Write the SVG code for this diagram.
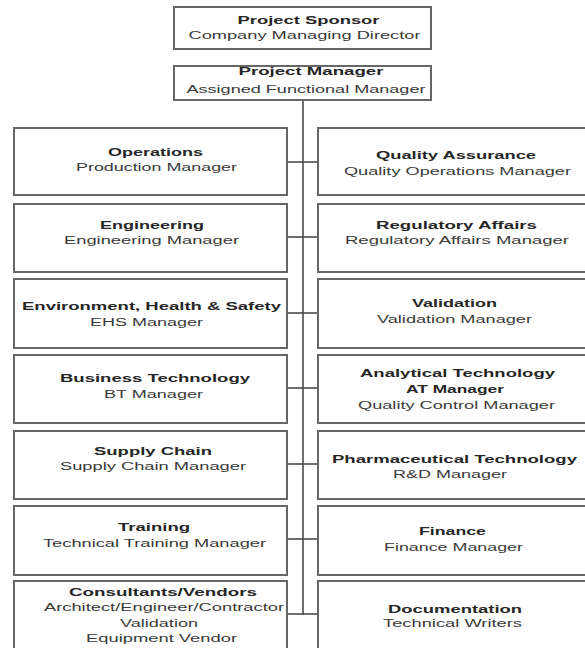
<svg xmlns="http://www.w3.org/2000/svg" width="585" height="648" viewBox="0 0 585 648">
<style>
.box{fill:#ffffff;stroke:#666666;stroke-width:2}
.t{font-family:"Liberation Sans",Arial,sans-serif;font-size:11px;font-weight:bold;fill:#262626;text-anchor:middle}
.s{font-family:"Liberation Sans",Arial,sans-serif;font-size:10px;fill:#3a3a3a;text-anchor:middle}
.ln{stroke:#4a4a4a;stroke-width:1.6;fill:none}
</style>
<rect width="585" height="648" fill="#ffffff"/>
<g id="connectors">
<line class="ln" x1="303" y1="100" x2="303" y2="615"/>
<line class="ln" x1="287" y1="162" x2="318" y2="162"/>
<line class="ln" x1="287" y1="237" x2="318" y2="237"/>
<line class="ln" x1="287" y1="313" x2="318" y2="313"/>
<line class="ln" x1="287" y1="388" x2="318" y2="388"/>
<line class="ln" x1="287" y1="464" x2="318" y2="464"/>
<line class="ln" x1="287" y1="539" x2="318" y2="539"/>
<line class="ln" x1="287" y1="614" x2="318" y2="614"/>
</g>
<g id="sponsor">
<rect class="box" x="174" y="7" width="257" height="42"/>
<text class="t" x="308.5" y="24" textLength="142" lengthAdjust="spacingAndGlyphs">Project Sponsor</text>
<text class="s" x="304.5" y="38.5" textLength="232" lengthAdjust="spacingAndGlyphs">Company Managing Director</text>
</g>
<g id="manager">
<rect class="box" x="174" y="66" width="257" height="34"/>
<text class="t" x="311" y="75" textLength="145" lengthAdjust="spacingAndGlyphs">Project Manager</text>
<text class="s" x="306" y="92.5" textLength="239" lengthAdjust="spacingAndGlyphs">Assigned Functional Manager</text>
</g>
<g id="operations">
<rect class="box" x="14" y="128" width="273" height="67"/>
<text class="t" x="155.5" y="156" textLength="95" lengthAdjust="spacingAndGlyphs">Operations</text>
<text class="s" x="156.5" y="170.5" textLength="161" lengthAdjust="spacingAndGlyphs">Production Manager</text>
</g>
<g id="engineering">
<rect class="box" x="14" y="204" width="273" height="68"/>
<text class="t" x="152" y="229" textLength="104" lengthAdjust="spacingAndGlyphs">Engineering</text>
<text class="s" x="151.5" y="243.5" textLength="175" lengthAdjust="spacingAndGlyphs">Engineering Manager</text>
</g>
<g id="ehs">
<rect class="box" x="14" y="279" width="273" height="69"/>
<text class="t" x="151.5" y="310" textLength="259" lengthAdjust="spacingAndGlyphs">Environment, Health &amp; Safety</text>
<text class="s" x="146.5" y="325.5" textLength="113" lengthAdjust="spacingAndGlyphs">EHS Manager</text>
</g>
<g id="business-technology">
<rect class="box" x="14" y="355" width="273" height="68"/>
<text class="t" x="155" y="382" textLength="190" lengthAdjust="spacingAndGlyphs">Business Technology</text>
<text class="s" x="153.5" y="397.5" textLength="99" lengthAdjust="spacingAndGlyphs">BT Manager</text>
</g>
<g id="supply-chain">
<rect class="box" x="14" y="431" width="273" height="68"/>
<text class="t" x="153" y="455" textLength="118" lengthAdjust="spacingAndGlyphs">Supply Chain</text>
<text class="s" x="153" y="469.5" textLength="186" lengthAdjust="spacingAndGlyphs">Supply Chain Manager</text>
</g>
<g id="training">
<rect class="box" x="14" y="506" width="273" height="69"/>
<text class="t" x="154" y="531" textLength="72" lengthAdjust="spacingAndGlyphs">Training</text>
<text class="s" x="154.5" y="546.5" textLength="223" lengthAdjust="spacingAndGlyphs">Technical Training Manager</text>
</g>
<g id="consultants">
<rect class="box" x="14" y="581" width="273" height="70"/>
<text class="t" x="163" y="596" textLength="188" lengthAdjust="spacingAndGlyphs">Consultants/Vendors</text>
<text class="s" x="164" y="611" textLength="240" lengthAdjust="spacingAndGlyphs">Architect/Engineer/Contractor</text>
<text class="s" x="159" y="626.5" textLength="78" lengthAdjust="spacingAndGlyphs">Validation</text>
<text class="s" x="161.5" y="641.5" textLength="151" lengthAdjust="spacingAndGlyphs">Equipment Vendor</text>
</g>
<g id="quality-assurance">
<rect class="box" x="318" y="128" width="275" height="67"/>
<text class="t" x="456" y="159" textLength="160" lengthAdjust="spacingAndGlyphs">Quality Assurance</text>
<text class="s" x="457.5" y="174.5" textLength="227" lengthAdjust="spacingAndGlyphs">Quality Operations Manager</text>
</g>
<g id="regulatory-affairs">
<rect class="box" x="318" y="204" width="275" height="68"/>
<text class="t" x="456.5" y="229" textLength="161" lengthAdjust="spacingAndGlyphs">Regulatory Affairs</text>
<text class="s" x="457" y="243.5" textLength="224" lengthAdjust="spacingAndGlyphs">Regulatory Affairs Manager</text>
</g>
<g id="validation">
<rect class="box" x="318" y="279" width="275" height="69"/>
<text class="t" x="454.5" y="307" textLength="85" lengthAdjust="spacingAndGlyphs">Validation</text>
<text class="s" x="454.5" y="322.5" textLength="155" lengthAdjust="spacingAndGlyphs">Validation Manager</text>
</g>
<g id="analytical-technology">
<rect class="box" x="318" y="355" width="275" height="68"/>
<text class="t" x="457.5" y="377" textLength="195" lengthAdjust="spacingAndGlyphs">Analytical Technology</text>
<text class="t" x="455" y="393" textLength="98" lengthAdjust="spacingAndGlyphs">AT Manager</text>
<text class="s" x="456.5" y="408.5" textLength="197" lengthAdjust="spacingAndGlyphs">Quality Control Manager</text>
</g>
<g id="pharmaceutical-technology">
<rect class="box" x="318" y="431" width="275" height="68"/>
<text class="t" x="454.5" y="462.5" textLength="245" lengthAdjust="spacingAndGlyphs">Pharmaceutical Technology</text>
<text class="s" x="450" y="477.5" textLength="114" lengthAdjust="spacingAndGlyphs">R&amp;D Manager</text>
</g>
<g id="finance">
<rect class="box" x="318" y="506" width="275" height="69"/>
<text class="t" x="452.5" y="535" textLength="67" lengthAdjust="spacingAndGlyphs">Finance</text>
<text class="s" x="453.5" y="550.5" textLength="139" lengthAdjust="spacingAndGlyphs">Finance Manager</text>
</g>
<g id="documentation">
<rect class="box" x="318" y="581" width="275" height="70"/>
<text class="t" x="455" y="613" textLength="134" lengthAdjust="spacingAndGlyphs">Documentation</text>
<text class="s" x="452.5" y="626.5" textLength="139" lengthAdjust="spacingAndGlyphs">Technical Writers</text>
</g>
</svg>
